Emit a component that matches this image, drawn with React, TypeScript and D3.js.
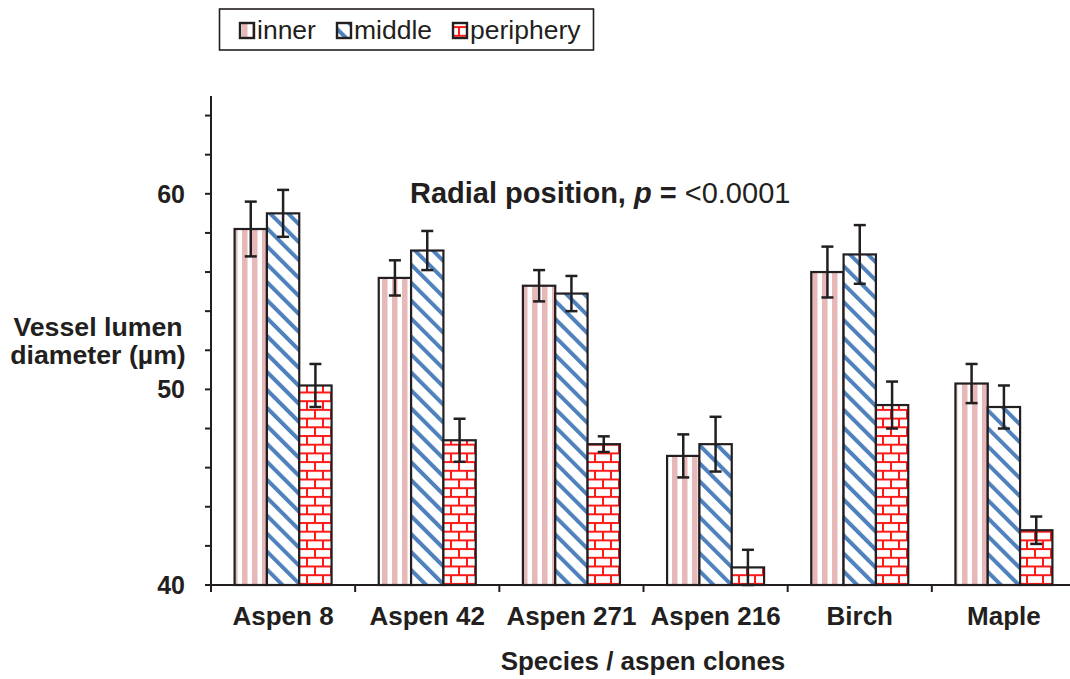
import React from "react";
import * as d3 from "d3";

const categories = ["Aspen 8", "Aspen 42", "Aspen 271", "Aspen 216", "Birch", "Maple"];
const seriesNames = ["inner", "middle", "periphery"];
const innerValues = [58.2, 55.7, 55.3, 46.6, 56.0, 50.3];
const middleValues = [59.0, 57.1, 54.9, 47.2, 56.9, 49.1];
const peripheryValues = [50.2, 47.4, 47.2, 40.9, 49.2, 42.8];
const innerErrors = [1.4, 0.9, 0.8, 1.1, 1.3, 1.0];
const middleErrors = [1.2, 1.0, 0.9, 1.4, 1.5, 1.1];
const peripheryErrors = [1.1, 1.1, 0.4, 0.9, 1.2, 0.7];
const yMajorTicks = [40, 50, 60];
const yMinorTicks = [40, 42, 44, 46, 48, 50, 52, 54, 56, 58, 60, 62, 64];

const W = 1070;
const H = 679;
const FONT = "Arial, 'Liberation Sans', Helvetica, sans-serif";
const INK = "#231f20";

const seriesValues = [innerValues, middleValues, peripheryValues];
const seriesErrors = [innerErrors, middleErrors, peripheryErrors];
const patternIds = ["pInner", "pMiddle", "pPeriphery"];

export default function App() {
  const y = d3.scaleLinear().domain([40, 65]).range([585, 96]);
  const x = d3.scaleBand<string>().domain(categories).range([211, 1076]).padding(0);
  const groupW = 97;
  const xs = d3.scaleBand<string>().domain(seriesNames).range([0, groupW]).padding(0);
  const off = (x.bandwidth() - groupW) / 2;
  const axisX = 211;
  const axisY = y(40);

  return (
    <svg
      width={W}
      height={H}
      style={{ position: "absolute", left: 0, top: 0, background: "#fff" }}
      fontFamily={FONT}
    >
      <defs>
        <pattern id="pInner" patternUnits="userSpaceOnUse" width={10} height={10}>
          <rect width={10} height={10} fill="#fff" />
          <rect x={2} width={5.5} height={10} fill="#e6b8b7" />
        </pattern>
        <pattern
          id="pMiddle"
          patternUnits="userSpaceOnUse"
          width={12.7}
          height={12.7}
          patternTransform="rotate(-45)"
        >
          <rect width={12.7} height={12.7} fill="#fff" />
          <rect x={0} width={4} height={12.7} fill="#4f81bd" />
        </pattern>
        <pattern id="pPeriphery" patternUnits="userSpaceOnUse" width={16} height={17.4}>
          <rect width={16} height={17.4} fill="#fff" />
          <g stroke="#ff1a1a" strokeWidth={2}>
            <line x1={0} x2={16} y1={1} y2={1} />
            <line x1={0} x2={16} y1={9.7} y2={9.7} />
            <line x1={3} x2={3} y1={1} y2={9.7} />
            <line x1={11} x2={11} y1={9.7} y2={17.4} />
          </g>
        </pattern>
      </defs>

      {/* Legend */}
      <rect x={219.5} y={9} width={374} height={41} fill="#fff" stroke={INK} strokeWidth={1.6} />
      {seriesNames.map((s, i) => {
        const sx = [240, 337, 453][i];
        return (
          <g key={s}>
            <rect x={sx} y={23} width={14} height={15} fill={`url(#${patternIds[i]})`} stroke={INK} strokeWidth={2.4} />
            <text x={sx + 17} y={39} fontSize={26.5} fill={INK}>
              {s}
            </text>
          </g>
        );
      })}

      {/* Bars */}
      {categories.map((c, ci) => (
        <g key={c}>
          {seriesNames.map((s, si) => {
            const v = seriesValues[si][ci];
            const bx = (x(c) as number) + off + (xs(s) as number);
            return (
              <rect
                key={s}
                x={bx}
                y={y(v)}
                width={xs.bandwidth()}
                height={axisY - y(v)}
                fill={`url(#${patternIds[si]})`}
                stroke={INK}
                strokeWidth={2.2}
              />
            );
          })}
        </g>
      ))}

      {/* Error bars */}
      {categories.map((c, ci) => (
        <g key={c + "e"} stroke={INK} strokeWidth={2.5}>
          {seriesNames.map((s, si) => {
            const v = seriesValues[si][ci];
            const e = seriesErrors[si][ci];
            const cx = (x(c) as number) + off + (xs(s) as number) + xs.bandwidth() / 2;
            return (
              <g key={s}>
                <line x1={cx} x2={cx} y1={y(v + e)} y2={y(v - e)} />
                <line x1={cx - 6} x2={cx + 6} y1={y(v + e)} y2={y(v + e)} />
                <line x1={cx - 6} x2={cx + 6} y1={y(v - e)} y2={y(v - e)} />
              </g>
            );
          })}
        </g>
      ))}

      {/* Y axis */}
      <line x1={axisX} x2={axisX} y1={y(65)} y2={axisY + 6} stroke={INK} strokeWidth={2} />
      {yMinorTicks.map((t) => (
        <line key={t} x1={axisX - 6} x2={axisX} y1={y(t)} y2={y(t)} stroke={INK} strokeWidth={2} />
      ))}
      {yMajorTicks.map((t) => (
        <text
          key={t}
          x={185}
          y={y(t) + 9}
          textAnchor="end"
          fontSize={25}
          fontWeight="bold"
          fill={INK}
        >
          {t}
        </text>
      ))}

      {/* X axis */}
      <line x1={axisX} x2={W} y1={axisY} y2={axisY} stroke={INK} strokeWidth={2} />
      {categories.map((c) => (
        <line
          key={c + "t"}
          x1={x(c) as number}
          x2={x(c) as number}
          y1={axisY}
          y2={axisY + 7}
          stroke={INK}
          strokeWidth={2}
        />
      ))}
      {categories.map((c) => (
        <text
          key={c + "l"}
          x={(x(c) as number) + x.bandwidth() / 2}
          y={625}
          textAnchor="middle"
          fontSize={26}
          fontWeight="bold"
          fill={INK}
        >
          {c}
        </text>
      ))}

      {/* Axis titles */}
      <text x={643} y={670} textAnchor="middle" fontSize={26} fontWeight="bold" fill={INK}>
        Species / aspen clones
      </text>
      <text x={98} textAnchor="middle" fontSize={26.7} fontWeight="bold" fill={INK}>
        <tspan x={98} y={336}>Vessel lumen</tspan>
        <tspan x={98} y={364}>diameter (µm)</tspan>
      </text>

      {/* Annotation */}
      <text x={410} y={203} fontSize={29} fill={INK}>
        <tspan fontWeight="bold">Radial position, </tspan>
        <tspan fontWeight="bold" fontStyle="italic">p</tspan>
        <tspan fontWeight="bold"> = </tspan>
        <tspan>&lt;0.0001</tspan>
      </text>
    </svg>
  );
}
